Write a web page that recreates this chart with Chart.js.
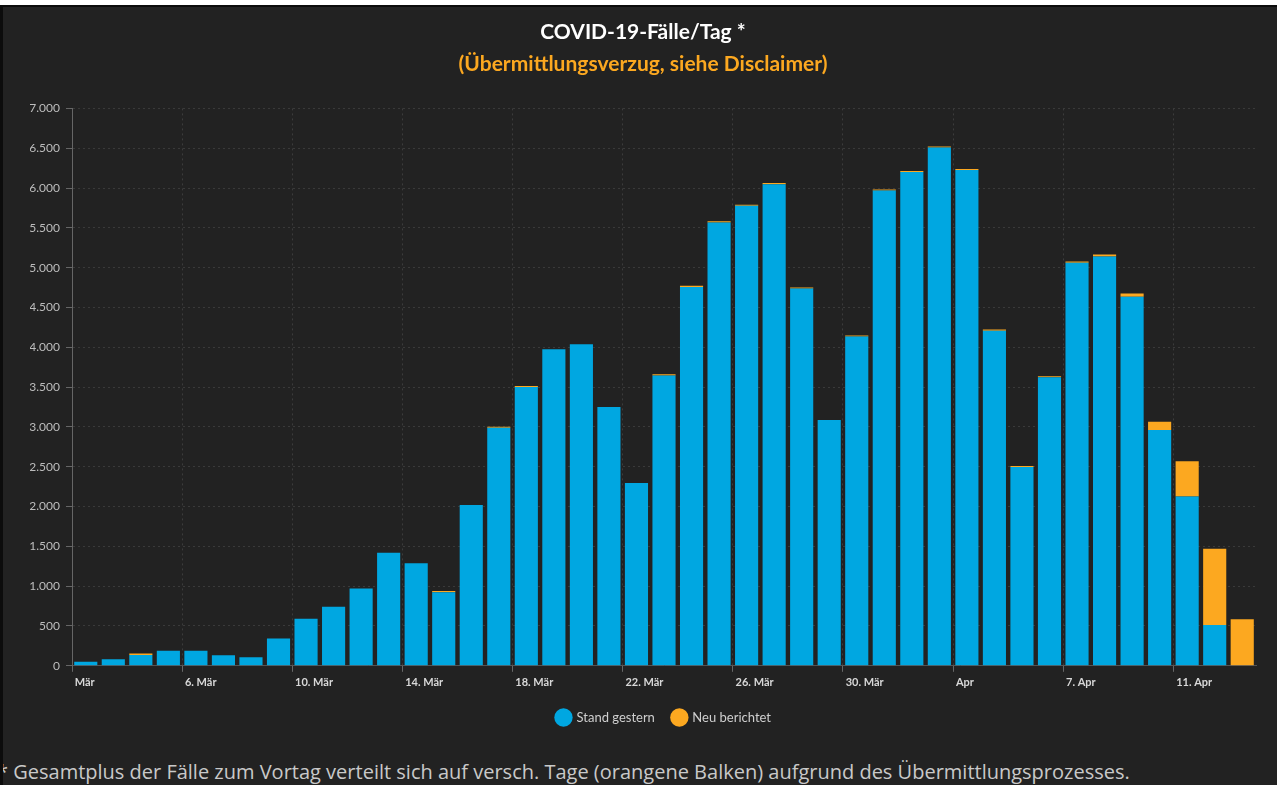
<!DOCTYPE html>
<html>
<head>
<meta charset="utf-8">
<script src="https://cdn.jsdelivr.net/npm/chart.js@4/dist/chart.umd.min.js"></script>
<style>
  html, body { margin: 0; padding: 0; background: #ffffff; }
  #frame {
    position: absolute; left: 0; top: 5px; width: 1277px; height: 780px;
    background: #222222; border-top: 2px solid #0c0c0c; border-left: 3px solid #0c0c0c;
    box-sizing: border-box; overflow: hidden;
  }
  #wrap { position: absolute; left: 0; top: 0; width: 1274px; height: 740px; }
  #footer {
    position: absolute; left: -6px; top: 751px; white-space: nowrap;
    font-family: "Open Sans", sans-serif; font-size: 20px; color: #c9c9c9;
  }
</style>
</head>
<body>
<div id="frame">
  <div id="wrap"><canvas id="cases-chart"></canvas></div>
  <div id="footer">* Gesamtplus der Fälle zum Vortag verteilt sich auf versch. Tage (orangene Balken) aufgrund des Übermittlungsprozesses.</div>
</div>
<script>
// Days (2. Mär .. 13. Apr)
const days = [
  '2. Mär', '3. Mär', '4. Mär', '5. Mär', '6. Mär', '7. Mär', '8. Mär', '9. Mär',
  '10. Mär', '11. Mär', '12. Mär', '13. Mär', '14. Mär', '15. Mär', '16. Mär', '17. Mär',
  '18. Mär', '19. Mär', '20. Mär', '21. Mär', '22. Mär', '23. Mär', '24. Mär', '25. Mär',
  '26. Mär', '27. Mär', '28. Mär', '29. Mär', '30. Mär', '31. Mär', '1. Apr', '2. Apr',
  '3. Apr', '4. Apr', '5. Apr', '6. Apr', '7. Apr', '8. Apr', '9. Apr', '10. Apr',
  '11. Apr', '12. Apr', '13. Apr'
];

// Axis labels shown every 4 days
const tickLabels = ['Mär', '6. Mär', '10. Mär', '14. Mär', '18. Mär', '22. Mär',
  '26. Mär', '30. Mär', 'Apr', '7. Apr', '11. Apr'];

// Cases known yesterday (blue)
const standGestern = [
  52, 83, 135, 188, 188, 133, 108, 343, 590, 742, 970, 1420, 1288, 925, 2018, 2988,
  3500, 3976, 4039, 3250, 2296, 3646, 4758, 5568, 5778, 6048, 4738, 3086, 4134, 5968,
  6200, 6508, 6225, 4208, 2498, 3624, 5062, 5139, 4635, 2960, 2125, 512, 0
];

// Newly reported (orange)
const neuBerichtet = [
  0, 0, 18, 0, 0, 0, 0, 0, 0, 0, 0, 0, 0, 15, 0, 15,
  14, 0, 0, 0, 0, 15, 15, 15, 12, 14, 14, 0, 14, 14,
  13, 12, 13, 15, 12, 12, 14, 25, 42, 104, 444, 958, 585
];

const BLUE = '#00a7e1';
const ORANGE = '#fca820';

// German thousands separator
function formatNumber(v) {
  return String(v).replace(/\B(?=(\d{3})+(?!\d))/g, '.');
}

const ctx = document.getElementById('cases-chart').getContext('2d');

const casesChart = new Chart(ctx, {
  type: 'bar',
  data: {
    labels: days,
    datasets: [
      {
        label: 'Stand gestern',
        data: standGestern,
        backgroundColor: BLUE,
        barPercentage: 0.84,
        categoryPercentage: 1
      },
      {
        label: 'Neu berichtet',
        data: neuBerichtet,
        backgroundColor: ORANGE,
        barPercentage: 0.84,
        categoryPercentage: 1
      }
    ]
  },
  options: {
    responsive: true,
    maintainAspectRatio: false,
    animation: false,
    layout: {
      padding: { left: 27, right: 21, top: 0, bottom: 13 }
    },
    plugins: {
      title: {
        display: true,
        text: 'COVID-19-Fälle/Tag *',
        color: '#ffffff',
        font: { family: 'Lato', size: 21, weight: 'bold' },
        padding: { top: 13, bottom: 6 }
      },
      subtitle: {
        display: true,
        text: '(Übermittlungsverzug, siehe Disclaimer)',
        color: ORANGE,
        font: { family: 'Lato', size: 21, weight: 'bold' },
        padding: { top: 0, bottom: 32 }
      },
      legend: {
        position: 'bottom',
        fullSize: false,
        labels: {
          usePointStyle: true,
          pointStyle: 'circle',
          boxWidth: 14,
          boxHeight: 14,
          color: '#cfcfcf',
          font: { family: 'Lato', size: 13 },
          padding: 18
        }
      },
      tooltip: { enabled: false }
    },
    scales: {
      x: {
        stacked: true,
        grid: {
          offset: true,
          color: (c) => (c.index % 4 === 0 ? '#3c3c3c' : 'transparent'),
          tickColor: (c) => (c.index % 4 === 0 ? '#666666' : 'transparent'),
          tickLength: 6,
          tickBorderDash: []
        },
        border: { display: true, color: '#555555', dash: [2, 3] },
        ticks: {
          autoSkip: false,
          maxRotation: 0,
          align: 'start',
          labelOffset: -11,
          padding: 4,
          color: '#d8d8d8',
          font: { family: 'Lato', size: 11, weight: 'bold' },
          callback: function (value, index) {
            return index % 4 === 0 ? tickLabels[index / 4] : '';
          }
        }
      },
      y: {
        stacked: true,
        min: 0,
        max: 7000,
        afterFit: (scale) => { scale.width = 42; },
        grid: {
          color: '#3a3a3a',
          tickColor: '#666666',
          tickLength: 6,
          tickBorderDash: []
        },
        border: { display: true, color: '#666666', dash: [2, 3] },
        ticks: {
          stepSize: 500,
          padding: 6,
          color: '#bdbdbd',
          font: { family: 'Lato', size: 12 },
          callback: (v) => formatNumber(v)
        }
      }
    }
  }
});
</script>
</body>
</html>
